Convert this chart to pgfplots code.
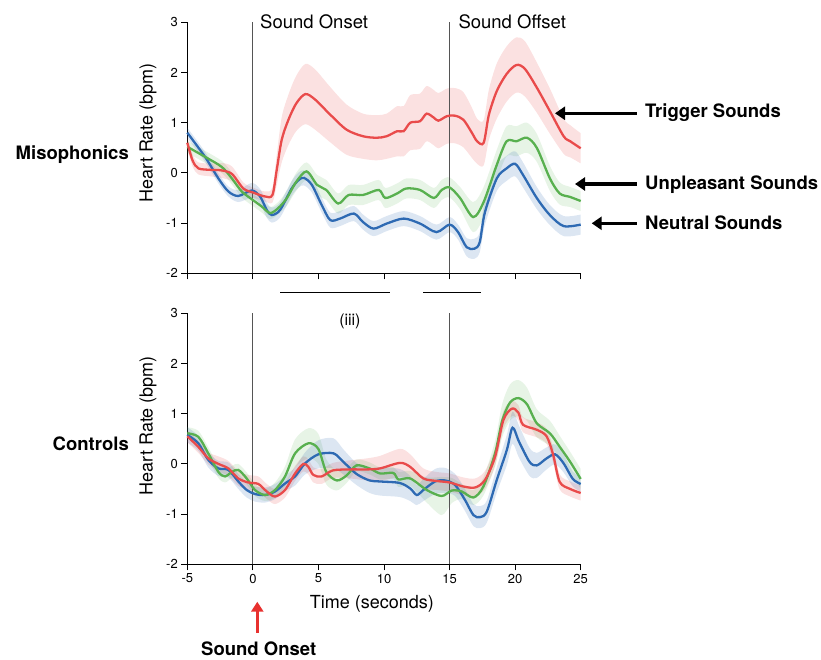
\documentclass[border=0pt]{standalone}
\usepackage{pgfplots}
\pgfplotsset{compat=1.18}
\usepackage{pgfplotstable}
\usepgfplotslibrary{fillbetween}
\usetikzlibrary{arrows.meta}
\usepackage{fontspec}
\setmainfont{TeX Gyre Heros}

\definecolor{cR}{HTML}{E94B4B}
\definecolor{cG}{HTML}{58B04F}
\definecolor{cB}{HTML}{2E6AB3}
\definecolor{vlinecol}{HTML}{555555}

% Misophonics: Trigger
\pgfplotstableread{
x y e
-5 0.60 0.12
-4.6 0.25 0.12
-4.16 0.09 0.12
-3.2 0.06 0.13
-2.4 0.05 0.15
-1.6 -0.02 0.15
-0.73 -0.31 0.12
0 -0.39 0.10
0.93 -0.47 0.10
1.49 -0.44 0.15
1.82 0.06 0.30
2.2 0.66 0.45
2.7 1.05 0.50
3.3 1.38 0.55
4.0 1.57 0.60
4.75 1.46 0.60
5.9 1.16 0.55
7.15 0.86 0.50
8.4 0.73 0.45
9.45 0.70 0.45
10.2 0.73 0.45
11.0 0.83 0.50
11.5 0.83 0.50
12.0 1.00 0.55
12.75 1.03 0.55
13.25 1.18 0.55
13.8 1.10 0.55
14.15 1.04 0.55
14.8 1.13 0.55
15.4 1.14 0.55
16.05 1.06 0.55
16.7 0.80 0.50
17.1 0.63 0.45
17.6 0.60 0.45
18.0 1.16 0.50
18.6 1.63 0.55
19.35 1.97 0.55
20.1 2.15 0.55
20.75 2.07 0.55
21.65 1.70 0.50
22.65 1.23 0.45
23.7 0.73 0.35
24.2 0.63 0.32
25 0.49 0.30
}\topR
% Misophonics: Unpleasant
\pgfplotstableread{
x y e
-5 0.52 0.12
-3.65 0.32 0.12
-2.38 0.12 0.12
-1.6 -0.11 0.12
-0.85 -0.37 0.12
0 -0.54 0.12
0.68 -0.67 0.12
1.31 -0.80 0.12
1.94 -0.70 0.12
2.6 -0.50 0.15
3.3 -0.18 0.18
4.1 0.03 0.18
4.9 -0.24 0.20
5.6 -0.34 0.20
6.5 -0.61 0.20
7.3 -0.44 0.20
8.4 -0.44 0.20
9.6 -0.34 0.20
10.1 -0.50 0.20
11.0 -0.41 0.20
11.7 -0.31 0.20
12.75 -0.34 0.20
13.8 -0.50 0.20
14.4 -0.34 0.20
15.0 -0.29 0.20
15.8 -0.50 0.22
16.8 -0.88 0.30
17.6 -0.58 0.30
18.6 0.16 0.30
19.35 0.63 0.30
20.1 0.63 0.30
20.9 0.70 0.30
21.65 0.50 0.28
22.65 -0.11 0.25
23.4 -0.41 0.22
24.2 -0.48 0.20
25 -0.56 0.20
}\topG
% Misophonics: Neutral
\pgfplotstableread{
x y e
-5 0.80 0.10
-3.65 0.32 0.10
-2.63 -0.11 0.10
-1.87 -0.37 0.10
-1.11 -0.46 0.12
-0.09 -0.35 0.15
0.55 -0.47 0.15
1.06 -0.74 0.15
1.44 -0.84 0.15
2.07 -0.74 0.15
2.96 -0.31 0.15
3.5 -0.14 0.15
3.9 -0.10 0.15
4.5 -0.24 0.15
5.25 -0.64 0.15
5.9 -0.94 0.15
6.65 -0.91 0.15
7.7 -0.81 0.15
8.4 -0.98 0.15
9.2 -1.11 0.15
10.2 -1.01 0.15
11.5 -0.91 0.15
12.75 -1.01 0.15
14.0 -1.18 0.15
15.0 -1.03 0.15
15.65 -1.18 0.15
16.3 -1.48 0.18
16.9 -1.51 0.20
17.3 -1.38 0.20
17.7 -0.78 0.25
18.6 -0.11 0.25
19.35 0.09 0.25
20.0 0.18 0.25
20.6 -0.04 0.25
21.65 -0.50 0.22
22.65 -0.84 0.20
23.7 -1.06 0.20
25 -1.03 0.20
}\topB
% Controls: Trigger
\pgfplotstableread{
x y e
-5 0.55 0.12
-4.16 0.34 0.12
-3.4 0.11 0.12
-2.63 0.00 0.15
-1.87 -0.09 0.15
-1.11 -0.29 0.15
-0.35 -0.37 0.15
0.42 -0.40 0.15
1.06 -0.55 0.15
1.69 -0.65 0.15
2.45 -0.52 0.15
3.22 -0.19 0.15
3.85 0.00 0.15
4.23 -0.06 0.15
4.61 -0.22 0.15
5.24 -0.25 0.15
6.1 -0.13 0.15
7.4 -0.11 0.18
8.7 -0.11 0.22
9.7 -0.09 0.25
11.22 0.02 0.28
12 -0.06 0.25
13 -0.29 0.20
14 -0.34 0.18
15 -0.37 0.18
16.05 -0.45 0.18
16.95 -0.47 0.18
17.7 -0.32 0.18
18.47 0.14 0.18
19.1 0.87 0.18
19.75 1.10 0.15
20.25 1.02 0.15
20.6 0.78 0.15
21.65 0.68 0.15
22.4 0.55 0.15
22.9 0.18 0.15
23.4 -0.36 0.15
24.2 -0.50 0.15
25 -0.58 0.15
}\botR
% Controls: Unpleasant
\pgfplotstableread{
x y e
-5 0.61 0.12
-4.16 0.54 0.12
-3.4 0.21 0.12
-2.63 -0.16 0.12
-2.12 -0.25 0.12
-1.6 -0.16 0.12
-1.11 -0.12 0.12
-0.47 -0.29 0.12
0.16 -0.52 0.12
0.93 -0.62 0.12
1.69 -0.52 0.15
2.45 -0.25 0.20
3.22 0.21 0.28
4.23 0.41 0.30
4.99 0.30 0.30
5.6 -0.16 0.25
6.4 -0.33 0.20
7.15 -0.23 0.15
7.9 -0.03 0.12
8.9 -0.09 0.12
9.7 -0.19 0.12
10.71 -0.18 0.12
11.1 -0.31 0.15
12 -0.29 0.15
13.26 -0.52 0.25
14.4 -0.64 0.38
15.17 -0.53 0.25
15.93 -0.55 0.15
16.82 -0.67 0.15
17.58 -0.45 0.18
18.47 0.21 0.25
19 0.85 0.33
19.6 1.22 0.36
20.25 1.31 0.36
20.9 1.19 0.33
21.65 0.81 0.28
22.65 0.61 0.25
23.4 0.34 0.22
24.2 0.04 0.20
25 -0.30 0.20
}\botG
% Controls: Neutral
\pgfplotstableread{
x y e
-5 0.58 0.15
-4.16 0.41 0.15
-3.4 0.08 0.15
-2.63 -0.09 0.15
-1.87 -0.12 0.15
-1.11 -0.35 0.15
-0.47 -0.52 0.15
0.16 -0.60 0.15
0.93 -0.62 0.15
1.69 -0.55 0.15
2.45 -0.39 0.15
3.22 -0.25 0.18
3.98 0.01 0.22
4.99 0.19 0.28
6.15 0.21 0.30
6.9 0.04 0.25
7.9 -0.20 0.22
8.9 -0.33 0.25
9.7 -0.35 0.28
11.2 -0.38 0.28
12 -0.49 0.25
12.5 -0.62 0.20
13 -0.52 0.22
13.9 -0.35 0.25
14.66 -0.33 0.25
15.42 -0.42 0.22
16.18 -0.72 0.22
16.82 -1.02 0.22
17.33 -1.06 0.22
17.84 -0.95 0.22
18.6 -0.32 0.25
19.37 0.28 0.30
19.8 0.72 0.32
20.3 0.44 0.32
21.1 0.04 0.28
21.65 -0.03 0.25
22.4 0.11 0.22
23.05 0.19 0.20
23.7 0.01 0.18
24.4 -0.30 0.15
25 -0.40 0.15
}\botB

\pgfplotsset{
  panel/.style={
    scale only axis, width=393.4pt, height=251pt,
    xmin=-5, xmax=25, ymin=-2, ymax=3,
    axis x line=bottom, axis y line=left,
    axis line style={-, line width=0.8pt, black},
    xtick={-5,0,...,25}, ytick={-2,-1,...,3},
    tick align=outside, major tick length=6pt,
    tick style={line width=0.8pt, black},
    /pgf/number format/assume math mode=true,
    ticklabel style={font=\fontsize{13}{13}\selectfont},
    label style={font=\fontsize{18}{18}\selectfont},
    clip=false,
    ylabel={Heart Rate (bpm)},
  },
  curve/.style={line width=2.3pt, smooth},
}

\begin{document}
\begin{tikzpicture}
\path (0pt,0pt) rectangle (821pt,660pt);

% ---------------- Misophonics ----------------
\begin{axis}[panel, at={(187.3pt,386.7pt)}, anchor=south west,
  xticklabels={},
  ylabel style={at={(axis description cs:-0.1,0.559)}, anchor=center, rotate=0}]
\addplot[draw=none, smooth, name path=tru, forget plot] table[x=x, y expr=\thisrow{y}+\thisrow{e}] {\topR};
\addplot[draw=none, smooth, name path=trl, forget plot] table[x=x, y expr=\thisrow{y}-\thisrow{e}] {\topR};
\addplot[fill=cR, fill opacity=0.17, draw=none, forget plot] fill between[of=tru and trl];
\addplot[draw=none, smooth, name path=tgu, forget plot] table[x=x, y expr=\thisrow{y}+\thisrow{e}] {\topG};
\addplot[draw=none, smooth, name path=tgl, forget plot] table[x=x, y expr=\thisrow{y}-\thisrow{e}] {\topG};
\addplot[fill=cG, fill opacity=0.14, draw=none, forget plot] fill between[of=tgu and tgl];
\addplot[draw=none, smooth, name path=tbu, forget plot] table[x=x, y expr=\thisrow{y}+\thisrow{e}] {\topB};
\addplot[draw=none, smooth, name path=tbl, forget plot] table[x=x, y expr=\thisrow{y}-\thisrow{e}] {\topB};
\addplot[fill=cB, fill opacity=0.17, draw=none, forget plot] fill between[of=tbu and tbl];
\addplot[vlinecol, line width=0.8pt] coordinates {(0,-2) (0,3)};
\addplot[vlinecol, line width=0.8pt] coordinates {(15,-2) (15,3)};
\addplot[cB, curve] table[x=x, y=y] {\topB};
\addplot[cG, curve] table[x=x, y=y] {\topG};
\addplot[cR, curve] table[x=x, y=y] {\topR};
\addplot[black, line width=0.8pt] coordinates {(2.07,-2.38) (10.46,-2.38)};
\addplot[black, line width=0.8pt] coordinates {(13.0,-2.38) (17.38,-2.38)};
\end{axis}

% ---------------- Controls ----------------
\begin{axis}[panel, at={(187.3pt,95.7pt)}, anchor=south west,
  xlabel={Time (seconds)},
  xlabel style={at={(axis description cs:0.469,-0.159)}, anchor=center},
  ylabel style={at={(axis description cs:-0.1,0.552)}, anchor=center, rotate=0}]
\addplot[draw=none, smooth, name path=bru, forget plot] table[x=x, y expr=\thisrow{y}+\thisrow{e}] {\botR};
\addplot[draw=none, smooth, name path=brl, forget plot] table[x=x, y expr=\thisrow{y}-\thisrow{e}] {\botR};
\addplot[fill=cR, fill opacity=0.17, draw=none, forget plot] fill between[of=bru and brl];
\addplot[draw=none, smooth, name path=bgu, forget plot] table[x=x, y expr=\thisrow{y}+\thisrow{e}] {\botG};
\addplot[draw=none, smooth, name path=bgl, forget plot] table[x=x, y expr=\thisrow{y}-\thisrow{e}] {\botG};
\addplot[fill=cG, fill opacity=0.14, draw=none, forget plot] fill between[of=bgu and bgl];
\addplot[draw=none, smooth, name path=bbu, forget plot] table[x=x, y expr=\thisrow{y}+\thisrow{e}] {\botB};
\addplot[draw=none, smooth, name path=bbl, forget plot] table[x=x, y expr=\thisrow{y}-\thisrow{e}] {\botB};
\addplot[fill=cB, fill opacity=0.17, draw=none, forget plot] fill between[of=bbu and bbl];
\addplot[vlinecol, line width=0.8pt] coordinates {(0,-2) (0,3)};
\addplot[vlinecol, line width=0.8pt] coordinates {(15,-2) (15,3)};
\addplot[cB, curve] table[x=x, y=y] {\botB};
\addplot[cG, curve] table[x=x, y=y] {\botG};
\addplot[cR, curve] table[x=x, y=y] {\botR};
\node[font=\fontsize{16}{16}\selectfont] at (axis cs:7.4,2.83) {(iii)};
\end{axis}

% ---------------- annotations ----------------
\node[anchor=base west, inner sep=0pt, font=\fontsize{18.5}{18.5}\selectfont] at (260pt,631.7pt) {Sound Onset};
\node[anchor=base west, inner sep=0pt, font=\fontsize{18.5}{18.5}\selectfont] at (458.3pt,631.7pt) {Sound Offset};

\draw[line width=3.5pt, -{Triangle[length=10pt,width=13pt]}] (636.7pt,546.7pt) -- (555pt,546.7pt);
\draw[line width=3.5pt, -{Triangle[length=10pt,width=13pt]}] (636.7pt,476pt) -- (575pt,476pt);
\draw[line width=3.5pt, -{Triangle[length=10pt,width=13pt]}] (636.7pt,436.7pt) -- (591.7pt,436.7pt);
\node[anchor=west, inner sep=0pt, font=\bfseries\fontsize{18.5}{18.5}\selectfont] at (645pt,547pt) {Trigger Sounds};
\node[anchor=west, inner sep=0pt, font=\bfseries\fontsize{18.5}{18.5}\selectfont] at (645pt,475.5pt) {Unpleasant Sounds};
\node[anchor=west, inner sep=0pt, font=\bfseries\fontsize{18.5}{18.5}\selectfont] at (645pt,437pt) {Neutral Sounds};

\node[anchor=east, inner sep=0pt, font=\bfseries\fontsize{18.5}{18.5}\selectfont] at (129pt,505pt) {Misophonics};
\node[anchor=east, inner sep=0pt, font=\bfseries\fontsize{18.5}{18.5}\selectfont] at (129pt,216pt) {Controls};

\draw[line width=3.5pt, color={rgb,255:red,232;green,49;blue,47}, -{Triangle[length=10pt,width=12pt]}] (257.3pt,27pt) -- (257.3pt,58.3pt);
\node[anchor=base west, inner sep=0pt, font=\bfseries\fontsize{18.5}{18.5}\selectfont] at (201pt,4pt) {Sound Onset};
\end{tikzpicture}
\end{document}
